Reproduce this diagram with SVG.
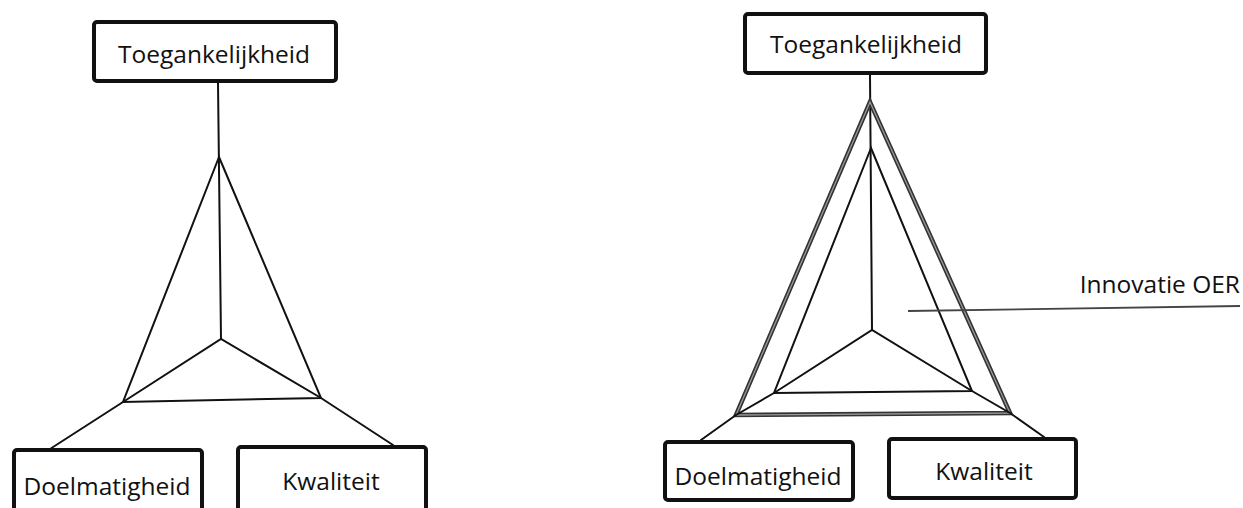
<svg xmlns="http://www.w3.org/2000/svg" width="1243" height="508" viewBox="0 0 1243 508">
<style>
.box{fill:#fff;stroke:#111;stroke-width:4;}
.lbl{font-family:"Open Sans","Noto Sans","Liberation Sans",sans-serif;font-size:24.5px;fill:#111;text-anchor:middle;}
.ln{fill:none;stroke:#111;stroke-width:2;stroke-linejoin:miter;stroke-linecap:round;}
.outer{fill:none;stroke:#333;stroke-width:4.5;stroke-linejoin:miter;}
.outerIn{fill:none;stroke:#9a9a9a;stroke-width:1.3;stroke-linejoin:miter;}
.lead{fill:none;stroke:#444;stroke-width:1.8;}
</style>
<rect width="1243" height="508" fill="#fff"/>
<g id="connectors">
  <!-- left diagram -->
  <line class="ln" x1="218" y1="83" x2="221" y2="339"/>
  <polygon class="ln" points="219,157 123,402 321,398"/>
  <polyline class="ln" points="50,449 123,402 221,339 321,398 393,445"/>
  <!-- right diagram -->
  <line class="ln" x1="870" y1="75" x2="872" y2="330"/>
  <polygon class="outer" points="870,102 736,415 1010,413"/>
  <polygon class="outerIn" points="870,102 736,415 1010,413"/>
  <polygon class="ln" points="871,148 774,393 972,391"/>
  <polyline class="ln" points="701,440 736,415 774,393 872,330 972,391 1010,413 1044,437"/>
  <line class="lead" x1="908" y1="311" x2="1240" y2="306"/>
</g>
<g id="left-toegankelijkheid">
  <rect class="box" x="94" y="22" width="242" height="59" rx="3"/>
  <text class="lbl" x="214" y="63">Toegankelijkheid</text>
</g>
<g id="left-doelmatigheid">
  <rect class="box" x="14" y="450" width="188" height="66" rx="3"/>
  <text class="lbl" x="107" y="495">Doelmatigheid</text>
</g>
<g id="left-kwaliteit">
  <rect class="box" x="238" y="447" width="188" height="66" rx="3"/>
  <text class="lbl" x="331" y="490">Kwaliteit</text>
</g>
<g id="right-toegankelijkheid">
  <rect class="box" x="745" y="14" width="241" height="59" rx="3"/>
  <text class="lbl" x="866" y="53">Toegankelijkheid</text>
</g>
<g id="right-doelmatigheid">
  <rect class="box" x="665" y="442" width="188" height="58" rx="3"/>
  <text class="lbl" x="758" y="485">Doelmatigheid</text>
</g>
<g id="right-kwaliteit">
  <rect class="box" x="889" y="439" width="187" height="59" rx="3"/>
  <text class="lbl" x="984" y="480">Kwaliteit</text>
</g>
<g id="innovatie-oer">
  <text class="lbl" x="1240" y="293" style="text-anchor:end">Innovatie OER</text>
</g>
</svg>
